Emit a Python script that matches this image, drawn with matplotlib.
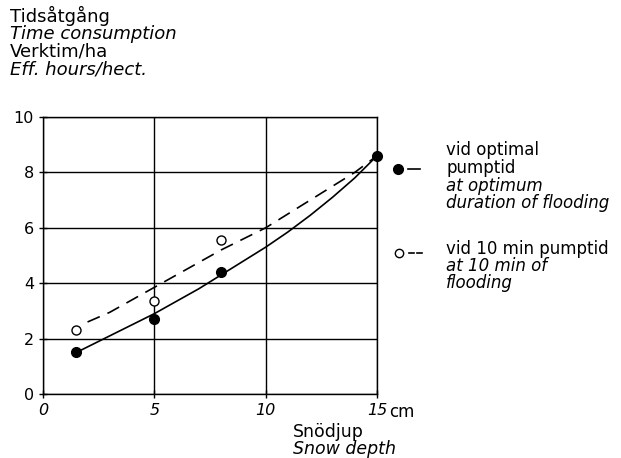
import matplotlib
matplotlib.use("Agg")
import matplotlib.pyplot as plt
from matplotlib.lines import Line2D

# --- data ---
snow_opt = [1.5, 5, 8, 15]
time_opt = [1.5, 2.7, 4.4, 8.6]
snow_10 = [1.5, 5, 8]
time_10 = [2.3, 3.35, 5.55]

curve_opt_x = [1.5, 3, 5, 7, 8, 9, 10, 11, 12, 13, 14, 15]
curve_opt_y = [1.5, 2.1, 2.9, 3.8, 4.3, 4.8, 5.3, 5.85, 6.45, 7.1, 7.8, 8.6]
curve_10_x = [2.0, 3, 5, 8, 10, 12, 14, 15]
curve_10_y = [2.6, 2.95, 3.85, 5.2, 6.0, 7.0, 8.0, 8.6]

xticks = [0, 5, 10, 15]
xticklabels = ["0", "5", "10", "15"]
yticks = [0, 2, 4, 6, 8, 10]

W, H = 621, 458
fig = plt.figure(figsize=(W / 100, H / 100), dpi=100)
plt.rcParams['font.family'] = ['DejaVu Sans']

def fx(px):
    return px / W

def fy(py):
    return 1 - py / H

ax = fig.add_axes([fx(43), fy(394), fx(377) - fx(43), fy(117) - fy(394)])
ax.set_xlim(0, 15)
ax.set_ylim(0, 10)
ax.set_xticks(xticks)
ax.set_xticklabels(xticklabels, fontsize=11.5, style='italic')
ax.set_yticks(yticks)
ax.tick_params(labelsize=11.5, direction='inout', length=6, width=1.0, color='black')
ax.grid(True, color='black', linewidth=1.0)
for s in ax.spines.values():
    s.set_linewidth(1.0)

ax.plot(curve_opt_x, curve_opt_y, color='black', lw=1.2, solid_capstyle='round')
ax.plot(curve_10_x, curve_10_y, color='black', lw=1.2, dashes=(8, 5))
ax.plot(snow_opt, time_opt, 'o', color='black', ms=7, clip_on=False, zorder=5)
ax.plot(snow_10, time_10, 'o', mfc='white', mec='black', mew=1.0, ms=6.5, clip_on=False, zorder=5)

# "cm" after the 15 tick label
fig.text(fx(389), fy(412), "cm", fontsize=12, va='center', ha='left')

# axis titles
fig.text(fx(293), fy(432), "Snödjup", fontsize=12.5, va='center', ha='left')
fig.text(fx(293), fy(449), "Snow depth", fontsize=12.5, va='center', ha='left', style='italic')

fig.text(fx(10), fy(16), "Tidsåtgång", fontsize=13, va='center', ha='left')
fig.text(fx(10), fy(34), "Time consumption", fontsize=13, va='center', ha='left', style='italic')
fig.text(fx(10), fy(52), "Verktim/ha", fontsize=13, va='center', ha='left')
fig.text(fx(10), fy(70), "Eff. hours/hect.", fontsize=13, va='center', ha='left', style='italic')

# legend (drawn in figure coordinates)
fig.add_artist(Line2D([fx(398)], [fy(169)], marker='o', color='black', ms=7, transform=fig.transFigure))
fig.add_artist(Line2D([fx(408), fx(420)], [fy(169), fy(169)], color='black', lw=1.2, transform=fig.transFigure))
fig.add_artist(Line2D([fx(399)], [fy(253)], marker='o', mfc='white', mec='black', ms=6, mew=1.0, transform=fig.transFigure))
fig.add_artist(Line2D([fx(409), fx(414)], [fy(253), fy(253)], color='black', lw=1.2, transform=fig.transFigure))
fig.add_artist(Line2D([fx(417), fx(422)], [fy(253), fy(253)], color='black', lw=1.2, transform=fig.transFigure))

fig.text(fx(446), fy(150), "vid optimal", fontsize=12, va='center', ha='left')
fig.text(fx(446), fy(168), "pumptid", fontsize=12, va='center', ha='left')
fig.text(fx(446), fy(186), "at optimum", fontsize=12, va='center', ha='left', style='italic')
fig.text(fx(446), fy(203), "duration of flooding", fontsize=12, va='center', ha='left', style='italic')

fig.text(fx(446), fy(249), "vid 10 min pumptid", fontsize=12, va='center', ha='left')
fig.text(fx(446), fy(266), "at 10 min of", fontsize=12, va='center', ha='left', style='italic')
fig.text(fx(446), fy(283), "flooding", fontsize=12, va='center', ha='left', style='italic')

fig.savefig("out.png", dpi=100, facecolor='white')
